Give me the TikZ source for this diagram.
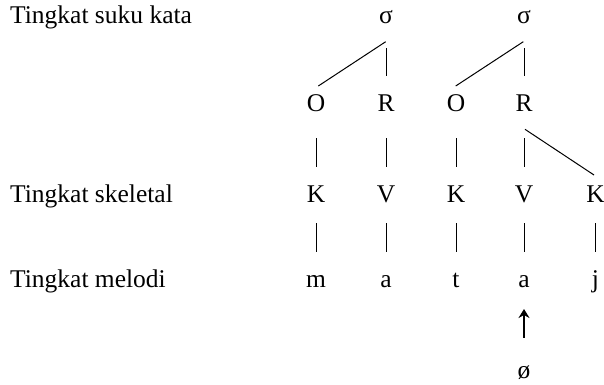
\documentclass[tikz,border=0pt]{standalone}
\usepackage{fontspec}
\setmainfont{Liberation Serif}
\usetikzlibrary{calc,arrows.meta}
\begin{document}
\begin{tikzpicture}[x=1pt,y=-1pt,
  txt/.style={anchor=base,inner sep=0pt,font=\fontsize{25.5}{30}\selectfont},
  lbl/.style={anchor=base west,inner sep=0pt,font=\fontsize{25.5}{30}\selectfont},
  ln/.style={line width=1pt}]
\useasboundingbox (0,0) rectangle (604,384);
% labels
\node[lbl] (L1) at (10,23) {Tingkat suku kata};
\node[lbl] (L2) at (10,202) {Tingkat skeletal};
\node[lbl] (L3) at (10,287.5) {Tingkat melodi};
% syllables
\node[txt] (s1) at (386,23) {σ};
\node[txt] (s2) at (524,23) {σ};
% O R
\node[txt] (O1) at (316,111) {O};
\node[txt] (R1) at (386,111) {R};
\node[txt] (O2) at (456,111) {O};
\node[txt] (R2) at (524,111) {R};
% skeletal
\node[txt] (K1) at (316,202) {K};
\node[txt] (V1) at (386,202) {V};
\node[txt] (K2) at (456,202) {K};
\node[txt] (V2) at (524,202) {V};
\node[txt] (K3) at (595.5,202) {K};
% melodic
\node[txt] (m) at (316,287.5) {m};
\node[txt] (a1) at (386,287.5) {a};
\node[txt] (t) at (456,287.5) {t};
\node[txt] (a2) at (524,287.5) {a};
\node[txt] (j) at (595.5,287.5) {j};
\node[txt] (phi) at (524,378) {ø};
% syllable branches
\draw[ln] ($(s1.base)+(-0.3,18.7)$) -- ($(O1.base)+(2.3,-25)$);
\draw[ln] ($(s1.base)+(0,25)$) -- ($(R1.base)+(0,-35)$);
\draw[ln] ($(s2.base)+(-0.7,18.7)$) -- ($(O2.base)+(-0.3,-25)$);
\draw[ln] ($(s2.base)+(0,25)$) -- ($(R2.base)+(0,-35)$);
% O/R to skeletal
\draw[ln] ($(O1.base)+(0,27)$) -- ($(K1.base)+(0,-35.3)$);
\draw[ln] ($(R1.base)+(0,27)$) -- ($(V1.base)+(0,-35.3)$);
\draw[ln] ($(O2.base)+(0,27)$) -- ($(K2.base)+(0,-35.3)$);
\draw[ln] ($(R2.base)+(0,27)$) -- ($(V2.base)+(0,-35.3)$);
\draw[ln] ($(R2.base)+(1,18.3)$) -- ($(K3.base)+(-1.5,-27)$);
% skeletal to melodic
\draw[ln] ($(K1.base)+(0,21)$) -- ($(m.base)+(0,-35.8)$);
\draw[ln] ($(V1.base)+(0,21)$) -- ($(a1.base)+(0,-35.8)$);
\draw[ln] ($(K2.base)+(0,21)$) -- ($(t.base)+(0,-35.8)$);
\draw[ln] ($(V2.base)+(0,21)$) -- ($(a2.base)+(0,-35.8)$);
\draw[ln] ($(K3.base)+(0,21)$) -- ($(j.base)+(0,-35.8)$);
% arrow
\draw[line width=1.6pt,-{Stealth[length=9pt,width=11pt,inset=3pt]}] ($(phi.base)+(0,-40.3)$) -- ($(a2.base)+(0,21.5)$);
\end{tikzpicture}
\end{document}
